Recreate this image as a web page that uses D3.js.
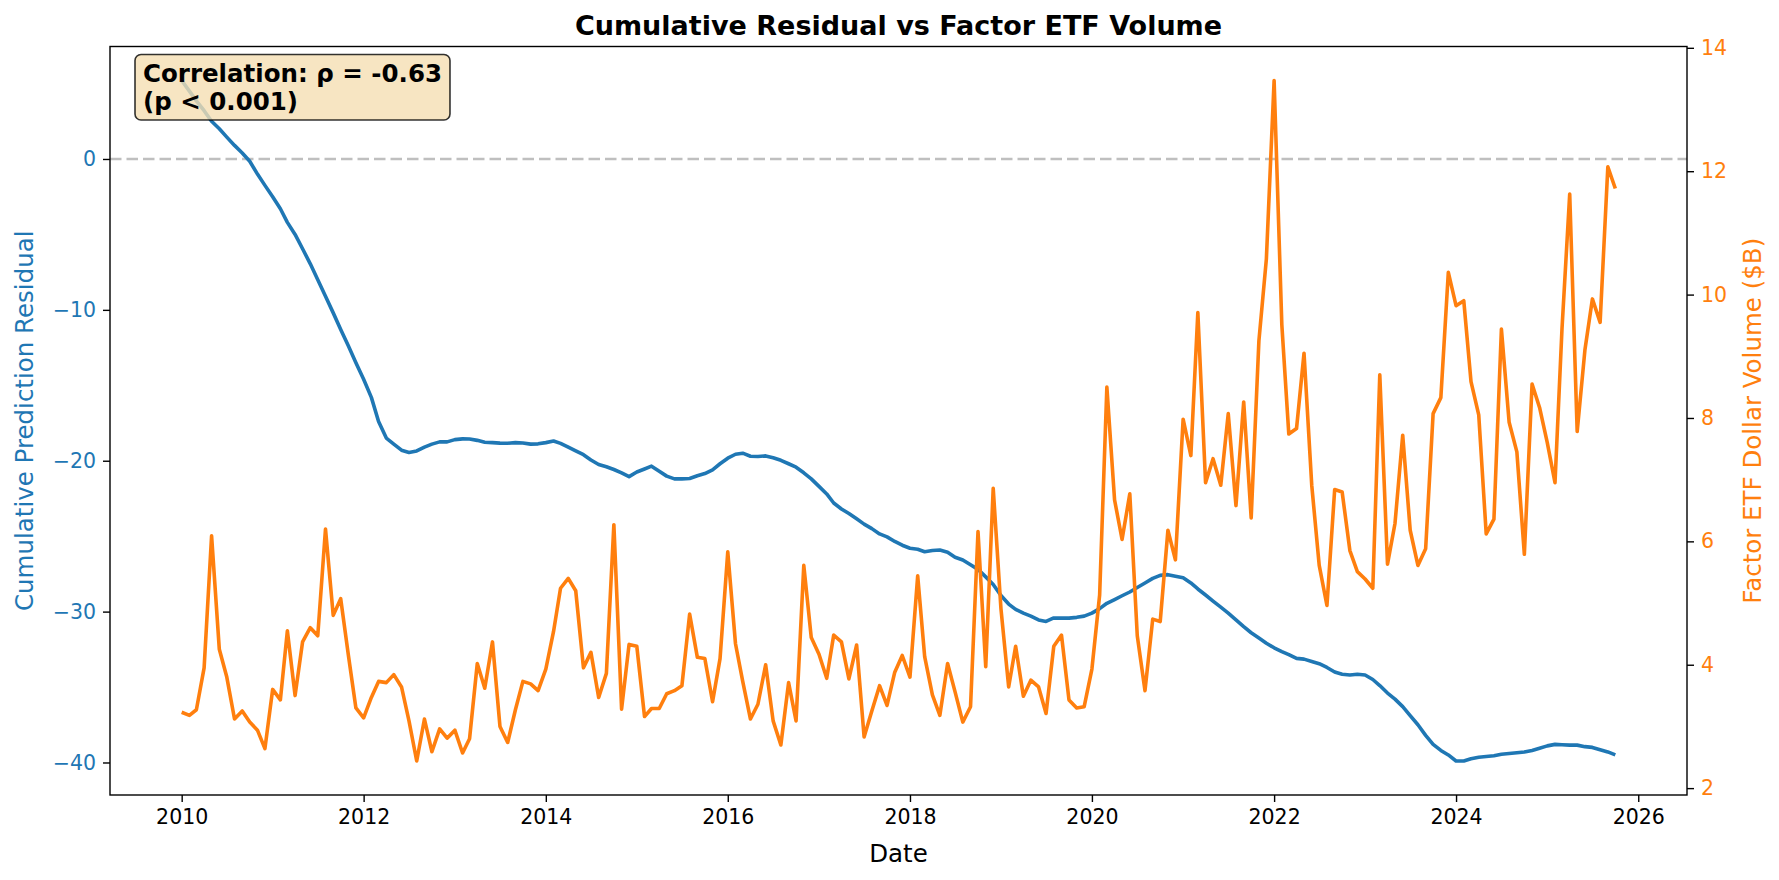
<!DOCTYPE html>
<html>
<head>
<meta charset="utf-8">
<script src="https://cdn.jsdelivr.net/npm/d3@7"></script>
<style>
  body { margin: 0; background: #fff; }
  svg text { font-family: "DejaVu Sans", sans-serif; }
</style>
</head>
<body>
<svg id="chart" width="1779" height="880"></svg>
<script>
// monthly dates, Jan 2010 .. Oct 2025
const months = d3.timeMonth.range(new Date(2010, 0, 1), new Date(2025, 10, 1));

// cumulative prediction residual (left axis)
const residual = [
  5.2, 4.5, 3.85, 3.2, 2.5, 2.0, 1.45, 0.9, 0.4, -0.15, -1.0, -1.75,
  -2.5, -3.3, -4.2, -5.0, -5.95, -6.95, -8.0, -9.1, -10.2, -11.3, -12.4, -13.5,
  -14.6, -15.8, -17.4, -18.5, -18.9, -19.3, -19.45, -19.35, -19.1, -18.9, -18.75, -18.75,
  -18.6, -18.55, -18.56, -18.65, -18.77, -18.8, -18.83, -18.84, -18.8, -18.82, -18.9, -18.88,
  -18.8, -18.69, -18.85, -19.1, -19.35, -19.6, -19.95, -20.25, -20.4, -20.58, -20.8, -21.05,
  -20.75, -20.55, -20.36, -20.7, -21.02, -21.2, -21.2, -21.18, -21.0, -20.85, -20.6, -20.2,
  -19.83, -19.57, -19.5, -19.7, -19.72, -19.68, -19.8, -19.97, -20.2, -20.43, -20.8, -21.2,
  -21.7, -22.2, -22.8, -23.2, -23.5, -23.85, -24.2, -24.5, -24.85, -25.05, -25.35, -25.6,
  -25.8, -25.87, -26.03, -25.95, -25.92, -26.06, -26.4, -26.58, -26.9, -27.2, -27.7, -28.2,
  -28.93, -29.5, -29.85, -30.1, -30.3, -30.55, -30.65, -30.42, -30.43, -30.43, -30.38, -30.3,
  -30.1, -29.8, -29.45, -29.2, -28.95, -28.7, -28.4, -28.1, -27.8, -27.6, -27.55, -27.65,
  -27.75, -28.1, -28.5, -28.9, -29.3, -29.7, -30.1, -30.55, -31.0, -31.4, -31.75, -32.1,
  -32.4, -32.65, -32.85, -33.1, -33.15, -33.3, -33.45, -33.7, -34.0, -34.15, -34.2, -34.15,
  -34.2, -34.5, -34.9, -35.4, -35.8, -36.3, -36.9, -37.5, -38.2, -38.8, -39.2, -39.5,
  -39.9, -39.9, -39.75, -39.65, -39.6, -39.55, -39.45, -39.4, -39.35, -39.3, -39.2, -39.05,
  -38.9, -38.8, -38.82, -38.85, -38.85, -38.95, -39.0, -39.15, -39.3, -39.5
];

// factor ETF dollar volume, $B (right axis)
const volume = [
  3.23, 3.18, 3.27, 3.95, 6.09, 4.25, 3.8, 3.12, 3.25, 3.07, 2.94, 2.64,
  3.6, 3.43, 4.55, 3.5, 4.37, 4.6, 4.47, 6.2, 4.8, 5.07, 4.15, 3.3,
  3.14, 3.47, 3.73, 3.71, 3.84, 3.64, 3.09, 2.44, 3.12, 2.59, 2.96, 2.81,
  2.94, 2.57, 2.8, 4.02, 3.62, 4.37, 3.0, 2.74, 3.27, 3.73, 3.69, 3.58,
  3.93, 4.54, 5.24, 5.4, 5.2, 3.95, 4.2, 3.47, 3.86, 6.27, 3.28, 4.33,
  4.3, 3.16, 3.29, 3.29, 3.53, 3.58, 3.66, 4.82, 4.12, 4.1, 3.4, 4.1,
  5.83, 4.34, 3.73, 3.12, 3.36, 4.0, 3.09, 2.7, 3.71, 3.09, 5.61, 4.44,
  4.17, 3.78, 4.48, 4.37, 3.77, 4.32, 2.83, 3.25, 3.66, 3.34, 3.88, 4.15,
  3.8, 5.44, 4.13, 3.51, 3.18, 4.02, 3.56, 3.07, 3.32, 6.16, 3.97, 6.86,
  4.91, 3.64, 4.3, 3.49, 3.75, 3.64, 3.21, 4.3, 4.48, 3.43, 3.3, 3.32,
  3.93, 5.13, 8.5, 6.67, 6.03, 6.77, 4.47, 3.58, 4.74, 4.7, 6.18, 5.7,
  7.98, 7.39, 9.71, 6.95, 7.34, 6.91, 8.07, 6.58, 8.26, 6.38, 9.25, 10.58,
  13.47, 9.51, 7.74, 7.83, 9.05, 6.91, 5.61, 4.96, 6.84, 6.8, 5.85, 5.51,
  5.39, 5.24, 8.7, 5.63, 6.29, 7.72, 6.18, 5.61, 5.88, 8.07, 8.33, 10.36,
  9.82, 9.9, 8.59, 8.05, 6.12, 6.36, 9.44, 7.93, 7.45, 5.79, 8.55, 8.17,
  7.6, 6.95, 9.44, 11.63, 7.78, 9.1, 9.93, 9.55, 12.07, 11.72
];

const yearTicks = [2010, 2012, 2014, 2016, 2018, 2020, 2022, 2024, 2026];
const leftTicks = [-40, -30, -20, -10, 0];
const rightTicks = [2, 4, 6, 8, 10, 12, 14];

const blue = "#1f77b4", orange = "#ff7f0e";
const margin = { top: 46.5, right: 92, bottom: 85, left: 110 };
const W = 1779, H = 880;
const width = W - margin.left - margin.right;
const height = H - margin.top - margin.bottom;
const tickFont = 20.5, labelFont = 24.5;

// matplotlib-like 5% padding
function pad(ext, frac) {
  const s = ext[1] - ext[0];
  return [ext[0] - s * frac, ext[1] + s * frac];
}
const tExt = d3.extent(months, d => +d);
const tPad = pad(tExt, 0.05);

const x = d3.scaleTime().domain([new Date(tPad[0]), new Date(tPad[1])]).range([0, width]);
const yL = d3.scaleLinear().domain(pad(d3.extent(residual), 0.05)).range([height, 0]);
const yR = d3.scaleLinear().domain(pad(d3.extent(volume), 0.05)).range([height, 0]);

const svg = d3.select("#chart");
svg.append("rect").attr("width", W).attr("height", H).attr("fill", "#fff");

const g = svg.append("g").attr("transform", "translate(" + margin.left + "," + margin.top + ")");

// zero reference line
g.append("line")
  .attr("x1", 0).attr("x2", width)
  .attr("y1", yL(0)).attr("y2", yL(0))
  .attr("stroke", "#808080").attr("stroke-opacity", 0.5)
  .attr("stroke-width", 2.6).attr("stroke-dasharray", "11.5,5");

const lineL = d3.line().x((d, i) => x(months[i])).y(d => yL(d));
const lineR = d3.line().x((d, i) => x(months[i])).y(d => yR(d));

g.append("path").datum(residual)
  .attr("d", lineL).attr("fill", "none")
  .attr("stroke", blue).attr("stroke-width", 3.6).attr("stroke-linejoin", "round");

g.append("path").datum(volume)
  .attr("d", lineR).attr("fill", "none")
  .attr("stroke", orange).attr("stroke-width", 3.6).attr("stroke-linejoin", "round");

// axes
const xAxis = d3.axisBottom(x)
  .tickValues(yearTicks.map(y => new Date(y, 0, 1)))
  .tickFormat(d3.timeFormat("%Y")).tickSizeOuter(0).tickSize(7).tickPadding(7);
const gx = g.append("g").attr("transform", "translate(0," + height + ")").call(xAxis);
gx.select(".domain").remove();
gx.selectAll("text").attr("font-size", tickFont).attr("fill", "#000");
gx.selectAll("line").attr("stroke", "#000").attr("stroke-width", 1.4);

const gl = g.append("g").call(d3.axisLeft(yL).tickValues(leftTicks)
  .tickFormat(d => d < 0 ? "\u2212" + Math.abs(d) : d).tickSize(7).tickPadding(7));
gl.select(".domain").remove();
gl.selectAll("text").attr("font-size", tickFont).attr("fill", blue);
gl.selectAll("line").attr("stroke", "#000").attr("stroke-width", 1.4);

const gr = g.append("g").attr("transform", "translate(" + width + ",0)")
  .call(d3.axisRight(yR).tickValues(rightTicks).tickSize(7).tickPadding(7));
gr.select(".domain").remove();
gr.selectAll("text").attr("font-size", tickFont).attr("fill", orange);
gr.selectAll("line").attr("stroke", "#000").attr("stroke-width", 1.4);

// frame
g.append("rect").attr("width", width).attr("height", height)
  .attr("fill", "none").attr("stroke", "#000").attr("stroke-width", 1.4);

// labels
svg.append("text")
  .attr("x", margin.left + width / 2).attr("y", 35)
  .attr("text-anchor", "middle").attr("font-size", 27).attr("font-weight", "bold")
  .text("Cumulative Residual vs Factor ETF Volume");

svg.append("text")
  .attr("x", margin.left + width / 2).attr("y", 862)
  .attr("text-anchor", "middle").attr("font-size", labelFont)
  .text("Date");

svg.append("text")
  .attr("transform", "translate(33," + (margin.top + height / 2) + ") rotate(-90)")
  .attr("text-anchor", "middle").attr("font-size", labelFont).attr("fill", blue)
  .text("Cumulative Prediction Residual");

svg.append("text")
  .attr("transform", "translate(1761," + (margin.top + height / 2) + ") rotate(-90)")
  .attr("text-anchor", "middle").attr("font-size", labelFont).attr("fill", orange)
  .text("Factor ETF Dollar Volume ($B)");

// correlation box
const box = svg.append("g");
const boxRect = box.append("rect");
const boxText = box.append("text").attr("font-size", 24.5).attr("font-weight", "bold");
boxText.append("tspan").attr("x", 143).attr("y", 82).text("Correlation: \u03c1 = -0.63");
boxText.append("tspan").attr("x", 143).attr("y", 110).text("(p < 0.001)");
const bb = boxText.node().getBBox();
boxRect
  .attr("x", 135).attr("y", 54.5)
  .attr("width", bb.x + bb.width + 8 - 135).attr("height", 120 - 54.5)
  .attr("rx", 6).attr("ry", 6)
  .attr("fill", "#f5deb3").attr("fill-opacity", 0.8)
  .attr("stroke", "#000").attr("stroke-opacity", 0.8).attr("stroke-width", 1.6);
</script>
</body>
</html>
